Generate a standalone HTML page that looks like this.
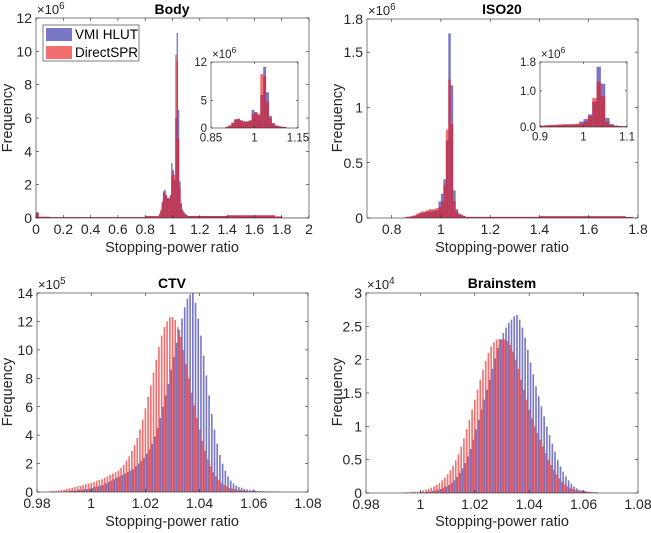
<!DOCTYPE html>
<html><head><meta charset="utf-8">
<style>
body{margin:0;background:#fff;}
svg{display:block;font-family:"Liberation Sans",Arial,sans-serif;}
</style></head>
<body>
<svg id="fig" width="651" height="533" viewBox="0 0 651 533" xmlns="http://www.w3.org/2000/svg"></svg>
<script>
// ---- Body (x1e6), variable-width bins ----
const bodyEdges = [0,0.02,0.1,0.8,0.9,0.91,0.92,0.93,0.94,0.95,0.96,0.97,0.98,0.99,1.0,1.01,1.02,1.03,1.04,1.05,1.06,1.07,1.08,1.09,1.1,1.11,1.4,1.75,1.8,2.0];
const bodyBlue  = [0.35,0.08,0.05,0.1,0.2,0.4,0.9,1.6,1.7,1.4,1.2,1.2,1.4,3.3,2.9,2.3,6.0,11.1,6.5,2.2,0.9,0.5,0.35,0.25,0.2,0.12,0.15,0.08,0.01];
const bodyRed   = [0.3,0.07,0.05,0.12,0.25,0.5,1.0,1.5,1.6,1.35,1.2,1.15,1.3,2.5,2.8,2.6,9.8,9.4,4.8,1.8,0.8,0.45,0.3,0.22,0.18,0.12,0.17,0.1,0.01];
// ---- ISO20 (x1e6) ----
const isoEdges = [0.85,0.86,0.87,0.88,0.89,0.9,0.91,0.92,0.93,0.94,0.95,0.96,0.97,0.98,0.99,1.0,1.01,1.02,1.03,1.04,1.05,1.06,1.07,1.08,1.09,1.1,1.4,1.75,1.78];
const isoBlue  = [0.005,0.01,0.01,0.015,0.02,0.03,0.04,0.05,0.05,0.06,0.06,0.06,0.07,0.07,0.15,0.22,0.35,0.7,1.67,1.2,0.25,0.08,0.04,0.03,0.02,0.01,0.015,0.008];
const isoRed   = [0.006,0.012,0.015,0.02,0.025,0.04,0.05,0.06,0.06,0.07,0.08,0.08,0.08,0.09,0.1,0.15,0.3,0.8,1.25,0.85,0.15,0.06,0.035,0.025,0.018,0.01,0.017,0.01];
// ---- CTV (x1e5), bins of 0.001 ----
const ctvBlueStart = 0.990;
const ctvBlue = [0.05,0.05,0.1,0.1,0.1,0.15,0.15,0.2,0.2,0.25,
 0.3,0.35,0.4,0.45,0.5,0.6,0.7,0.8,0.9,1.0,
 1.1,1.2,1.3,1.4,1.5,1.6,1.8,2.0,2.2,2.4,
 2.7,3.0,3.4,3.9,4.5,5.2,6.0,6.8,7.6,8.6,
 9.5,10.5,11.4,12.2,13.0,13.6,13.9,14.0,13.3,12.2,
 11.0,9.6,8.2,6.8,5.5,4.4,3.4,2.6,2.0,1.5,
 1.1,0.8,0.6,0.45,0.35,0.3,0.22,0.18,0.15,0.12,
 0.1,0.08,0.07,0.06,0.05,0.05,0.04,0.04,0.03,0.03];
const ctvRedStart = 0.985;
const ctvRed = [0.05,0.07,0.09,0.12,0.15,0.18,0.22,0.26,0.3,0.35,0.4,0.45,0.5,0.55,0.6,
 0.65,0.7,0.8,0.85,0.9,1.0,1.1,1.2,1.3,1.4,
 1.5,1.7,1.9,2.2,2.5,2.9,3.3,3.8,4.4,5.1,
 5.9,6.7,7.5,8.4,9.3,10.2,11.0,11.6,12.0,12.3,
 12.3,12.1,11.6,10.9,10.0,9.0,8.0,7.0,6.1,5.2,
 4.4,3.6,2.9,2.3,1.8,1.4,1.1,0.85,0.65,0.5,
 0.4,0.3,0.25,0.2,0.16,0.13,0.1,0.08,0.06,0.05];
// ---- Brainstem (x1e4) ----
const bsBlueStart = 1.000;
const bsBlue = [0.01,0.01,0.02,0.02,0.03,0.04,0.05,0.06,0.08,0.1,
 0.12,0.15,0.19,0.24,0.3,0.37,0.45,0.55,0.66,0.8,
 0.95,1.1,1.25,1.4,1.55,1.7,1.86,2.02,2.18,2.3,
 2.4,2.48,2.55,2.6,2.65,2.67,2.6,2.48,2.33,2.15,
 1.96,1.78,1.6,1.45,1.3,1.15,1.0,0.87,0.74,0.62,
 0.5,0.4,0.32,0.25,0.19,0.14,0.1,0.07,0.05,0.04,
 0.03,0.02,0.02,0.01,0.01];
const bsRedStart = 0.994;
const bsRed = [0.01,0.01,0.01,0.02,0.02,0.02,
 0.03,0.04,0.05,0.06,0.08,0.1,0.12,0.15,0.19,0.23,
 0.28,0.34,0.41,0.49,0.58,0.7,0.82,0.96,1.1,1.25,
 1.4,1.55,1.7,1.85,1.98,2.1,2.2,2.26,2.3,2.31,
 2.31,2.3,2.28,2.22,2.12,2.0,1.86,1.7,1.55,1.4,
 1.25,1.12,1.0,0.9,0.8,0.7,0.6,0.5,0.42,0.35,
 0.28,0.22,0.17,0.13,0.1,0.08,0.06,0.05,0.04,0.03,
 0.02,0.02,0.01,0.01,0.01,0.01];
// tick labels
const bodyXTicks = ["0","0.2","0.4","0.6","0.8","1","1.2","1.4","1.6","1.8","2"];
const bodyYTicks = ["0","2","4","6","8","10","12"];
const isoXTicks = ["0.8","1","1.2","1.4","1.6","1.8"];
const isoYTicks = ["0","0.5","1","1.5","1.8"];
const ctvXTicks = ["0.98","1","1.02","1.04","1.06","1.08"];
const ctvYTicks = ["0","2","4","6","8","10","12","14"];
const bsYTicks = ["0","0.5","1","1.5","2","2.5","3"];

const NS="http://www.w3.org/2000/svg";
const svg=document.getElementById('fig');
const BLUE="rgb(30,30,160)", RED="rgb(235,15,15)";
function mk(tag,attrs,parent){const e=document.createElementNS(NS,tag);for(const k in attrs)e.setAttribute(k,attrs[k]);(parent||svg).appendChild(e);return e;}
function scale(d0,d1,p0,p1){return v=>p0+(v-d0)/(d1-d0)*(p1-p0);}

function axes(name,L,R,T,B,xd,yd,xt,yt,fs,opt){
  const g=mk('g',{});
  
  
  const sx=scale(xd[0],xd[1],L,R), sy=scale(yd[0],yd[1],B,T);
  mk('rect',{x:L,y:T,width:R-L,height:B-T,fill:'#fff',stroke:'none'},g);
  const plot=mk('g',{},g);
  const frame=mk('g',{},g);
  mk('rect',{x:L,y:T,width:R-L,height:B-T,fill:'none',stroke:'#262626','stroke-width':0.6},frame);
  const tl=opt.tick||3;
  xt.forEach(t=>{const x=sx(parseFloat(t));
    mk('line',{x1:x,y1:B,x2:x,y2:B-tl,stroke:'#262626','stroke-width':0.6},frame);
    mk('line',{x1:x,y1:T,x2:x,y2:T+tl,stroke:'#262626','stroke-width':0.6},frame);
    const tx=mk('text',{x:x,y:B+fs+2,'font-size':fs,fill:'#262626','text-anchor':'middle'},frame);tx.textContent=t;
    
    
  });
  yt.forEach(t=>{const y=sy(parseFloat(t));
    mk('line',{x1:L,y1:y,x2:L+tl,y2:y,stroke:'#262626','stroke-width':0.6},frame);
    mk('line',{x1:R,y1:y,x2:R-tl,y2:y,stroke:'#262626','stroke-width':0.6},frame);
    const tx=mk('text',{x:L-4,y:y+fs*0.36,'font-size':fs,fill:'#262626','text-anchor':'end'},frame);tx.textContent=t;
    
    
  });
  const ef=opt.expfs||fs;
  const ex=mk('text',{x:L+1,y:T-4,'font-size':ef,fill:'#262626'},frame);
  
  
  ex.innerHTML='×10<tspan dy="-5" font-size="'+(ef*0.75)+'">'+opt.exp+'</tspan>';
  return {sx,sy,plot,g};
}
function histVar(ax,edges,vals,color,nm){
  vals.forEach((v,i)=>{const x0=ax.sx(edges[i]),x1=ax.sx(edges[i+1]);const y=ax.sy(v);
    const r=mk('rect',{x:x0,y:y,width:Math.max(x1-x0,0.5),height:ax.sy(0)-y,fill:color,'fill-opacity':0.6},ax.plot);
    
    
  });
}
function histFixed(ax,start,w,vals,color,nm){
  vals.forEach((v,i)=>{const c=start+i*w;const x0=ax.sx(c-w*0.3),x1=ax.sx(c+w*0.3);const y=ax.sy(v);
    const r=mk('rect',{x:x0,y:y,width:x1-x0,height:ax.sy(0)-y,fill:color,'fill-opacity':0.6},ax.plot);
    
    
  });
}
function txt(s,x,y,fs,attrs,name){const t=mk('text',Object.assign({x:x,y:y,'font-size':fs,fill:'#262626','text-anchor':'middle'},attrs||{}));t.textContent=s;
  
  return t;}

// Body
let a=axes('body-axes',36,309,18,218,[0,2],[0,12],bodyXTicks,bodyYTicks,14,{exp:'6',expfs:13});
histVar(a,bodyEdges,bodyBlue,BLUE,'body-blue-bar');histVar(a,bodyEdges,bodyRed,RED,'body-red-bar');
// Body inset
let ai=axes('body-inset-axes',211,298,62,128,[0.85,1.15],[0,12],["0.85","1","1.15"],["0","5","12"],11.5,{exp:'6',tick:2});
histVar(ai,bodyEdges.slice(4,26),bodyBlue.slice(4,25),BLUE,'body-inset-blue-bar');histVar(ai,bodyEdges.slice(4,26),bodyRed.slice(4,25),RED,'body-inset-red-bar');
// ISO20
a=axes('iso20-axes',367,638,19,218,[0.7,1.8],[0,1.8],isoXTicks,isoYTicks,14,{exp:'6',expfs:13});
histVar(a,isoEdges,isoBlue,BLUE,'iso-blue-bar');histVar(a,isoEdges,isoRed,RED,'iso-red-bar');
ai=axes('iso20-inset-axes',540,627,62,127,[0.9,1.1],[0,1.8],["0.9","1","1.1"],["0.0","1.0","1.8"],11.5,{exp:'6',tick:2});
histVar(ai,isoEdges.slice(5,26),isoBlue.slice(5,25),BLUE,'iso-inset-blue-bar');histVar(ai,isoEdges.slice(5,26),isoRed.slice(5,25),RED,'iso-inset-red-bar');
// CTV
a=axes('ctv-axes',37,308,293,492,[0.98,1.08],[0,14],ctvXTicks,ctvYTicks,14,{exp:'5',expfs:13});
histFixed(a,ctvBlueStart+0.0005,0.001,ctvBlue,BLUE,'ctv-blue-bar');histFixed(a,ctvRedStart,0.001,ctvRed,RED,'ctv-red-bar');
// Brainstem
a=axes('brainstem-axes',366,638,293,493,[0.98,1.08],[0,3],ctvXTicks,bsYTicks,14,{exp:'4',expfs:13});
histFixed(a,bsBlueStart+0.0005,0.001,bsBlue,BLUE,'brainstem-blue-bar');histFixed(a,bsRedStart,0.001,bsRed,RED,'brainstem-red-bar');

// titles & labels
txt('Body',172,14,14,{'font-weight':'bold',fill:'#000'},'body-title');
txt('ISO20',502,14,14,{'font-weight':'bold',fill:'#000'},'iso20-title');
txt('CTV',172,288,14,{'font-weight':'bold',fill:'#000'},'ctv-title');
txt('Brainstem',502,288,14,{'font-weight':'bold',fill:'#000'},'brainstem-title');
txt('Stopping-power ratio',172,252,14.5,{},'body-x-axis-title');
txt('Stopping-power ratio',502,252,14.5,{},'iso20-x-axis-title');
txt('Stopping-power ratio',172,526,14.5,{},'ctv-x-axis-title');
txt('Stopping-power ratio',502,526,14.5,{},'brainstem-x-axis-title');
txt('Frequency',0,0,14.5,{transform:'translate(12,118) rotate(-90)'},'body-y-axis-title');
txt('Frequency',0,0,14.5,{transform:'translate(342,118) rotate(-90)'},'iso20-y-axis-title');
txt('Frequency',0,0,14.5,{transform:'translate(12,392) rotate(-90)'},'ctv-y-axis-title');
txt('Frequency',0,0,14.5,{transform:'translate(342,392) rotate(-90)'},'brainstem-y-axis-title');

// legend
const lg=mk('g',{});


mk('rect',{x:43,y:25,width:96,height:36,fill:'#fff',stroke:'#262626','stroke-width':0.6},lg);
mk('rect',{x:46,y:28,width:26,height:13,fill:BLUE,'fill-opacity':0.6},lg);
mk('rect',{x:46,y:46,width:26,height:13,fill:RED,'fill-opacity':0.6},lg);
let t=mk('text',{x:75,y:39,'font-size':13.5,fill:'#000'},lg);t.textContent='VMI HLUT';


t=mk('text',{x:75,y:57,'font-size':13.5,fill:'#000'},lg);t.textContent='DirectSPR';


</script>
</body></html>
